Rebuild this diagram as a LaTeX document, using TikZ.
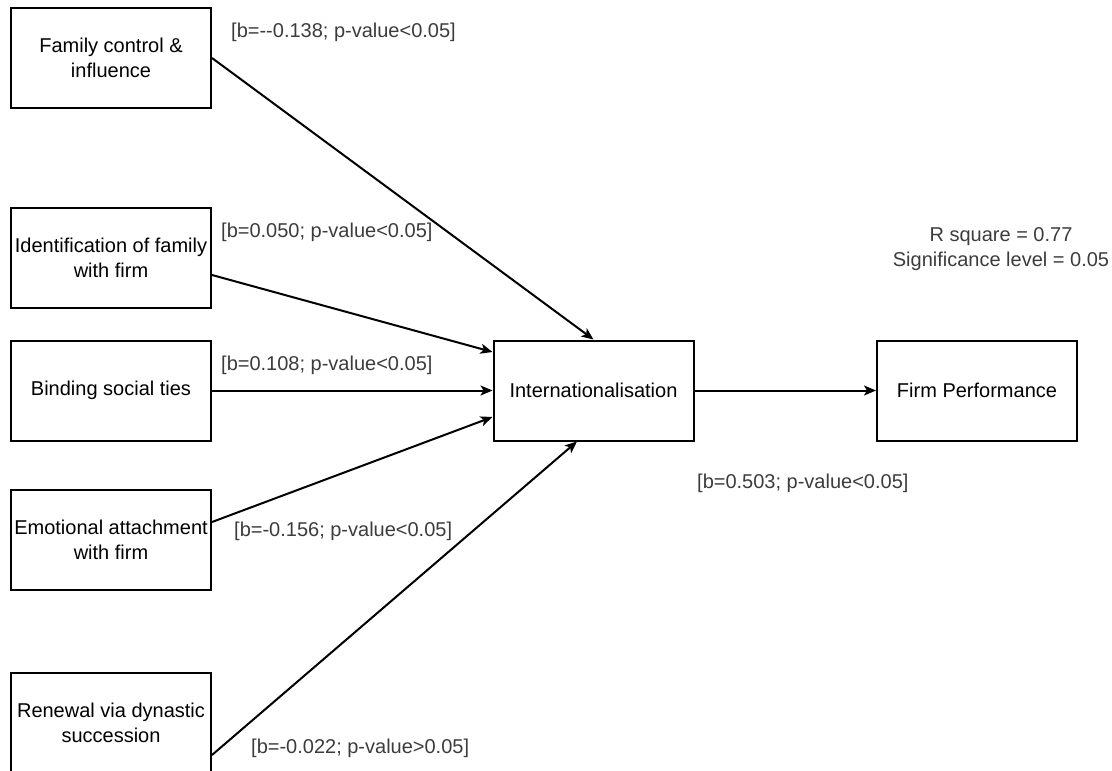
\documentclass[tikz,border=0pt]{standalone}
\usepackage{fontspec}
\setmainfont{Liberation Sans}
\usepackage{tikz}
\usetikzlibrary{arrows.meta,positioning}
\usepackage{xcolor}
\definecolor{labgray}{RGB}{60,60,60}
\tikzstyle{box} = [draw, line width=2pt, minimum width=200pt, minimum height=100pt, inner sep=0pt, align=center, font=\fontsize{20}{25}\selectfont]
\tikzstyle{coef} = [anchor=west, inner sep=0pt, color=labgray, font=\fontsize{20}{25}\selectfont]
\tikzstyle{arrow} = [line width=2pt,->,>={Stealth[length=12pt,width=10pt,inset=3pt]}]

\begin{document}
\begin{tikzpicture}[x=1pt, y=-1pt]
\useasboundingbox (0,0) rectangle (1112,771);
% Antecedents
\node[box] (fam) at (111,58) {Family control \&\\influence};
\node[box] (ident) at (111,257.5) {Identification of family\\with firm};
\node[box] (bind) at (111,390.5) {Binding social ties};
\node[box] (emot) at (111,540) {Emotional attachment\\with firm};
\node[box] (renew) at (111,723) {Renewal via dynastic\\succession};

% Mediator and outcome
\node[box] (intl) at (593.5,390.5) {Internationalisation};
\node[box] (perf) at (977,390.5) {Firm Performance};

% Paths
\draw[arrow] (fam.east) -- (intl.north);
\draw[arrow] ([yshift=-17.5pt]ident.east) -- ([yshift=38.5pt]intl.west);
\draw[arrow] (bind.east) -- (intl.west);
\draw[arrow] ([yshift=18pt]emot.east) -- ([yshift=-26.5pt]intl.west);
\draw[arrow] ([yshift=-32pt]renew.east) -- ([xshift=-16.5pt]intl.south);
\draw[arrow] (intl.east) -- (perf.west);

% Coefficients
\node[coef] (c1) at (231,32) {[b=-{}-0.138; p-value<0.05]};
\node[coef] (c2) at (221,232) {[b=0.050; p-value<0.05]};
\node[coef] (c3) at (221,365) {[b=0.108; p-value<0.05]};
\node[coef] (c4) at (234,531) {[b=-0.156; p-value<0.05]};
\node[coef] (c5) at (251,748) {[b=-0.022; p-value>0.05]};
\node[coef] (c6) at (697,483) {[b=0.503; p-value<0.05]};

% Model fit
\node[coef, anchor=center, align=center] (fit) at (1001,249.5) {R square = 0.77\\Significance level = 0.05};
\end{tikzpicture}
\end{document}
